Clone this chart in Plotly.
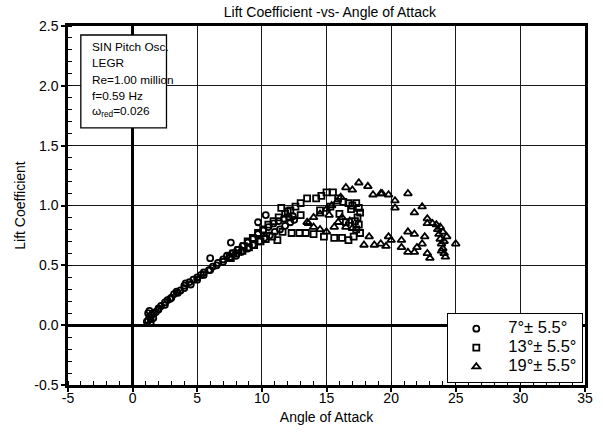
import plotly.graph_objects as go

# --- tick labels ---
x_tick_vals = [-5, 0, 5, 10, 15, 20, 25, 30, 35]
x_tick_text = ["-5", "0", "5", "10", "15", "20", "25", "30", "35"]
y_tick_vals = [-0.5, 0.0, 0.5, 1.0, 1.5, 2.0, 2.5]
y_tick_text = ["-0.5", "0.0", "0.5", "1.0", "1.5", "2.0", "2.5"]

# --- series names ---
series_names = ["7°± 5.5°", "13°± 5.5°", "19°± 5.5°"]

# --- test-condition text lines ---
info_lines = ["SIN Pitch Osc.", "LEGR", "Re=1.00 million", "f=0.59 Hz",
              "ω<sub>red</sub>=0.026"]

# --- 7° ± 5.5° (angle of attack, lift coefficient) ---
alpha_7 = [1.2, 1.3, 1.2, 1.4, 1.5, 1.3, 1.6, 1.8, 2.0, 2.2, 2.5, 2.7, 2.9, 3.2,
           3.4, 3.7, 4.0, 4.1, 4.4, 4.7, 5.0, 5.3, 5.5, 5.9, 6.2, 6.6, 7.0, 7.3,
           7.7, 8.1, 8.5, 8.9, 9.3, 9.7, 10.1, 10.5, 10.9, 11.3, 11.7, 12.1, 12.4,
           12.5, 12.2, 11.8, 11.4, 11.0, 10.6, 10.2, 9.8, 9.3, 8.9, 8.4, 8.0, 7.6,
           7.5, 7.0, 6.5, 6.0, 6.0, 5.5, 5.0, 4.5, 4.0, 3.5, 3.0, 2.5, 2.0, 1.6,
           1.1, 1.4, 9.7, 10.3]
cl_7 = [0.04, 0.07, 0.10, 0.05, 0.09, 0.12, 0.06, 0.11, 0.13, 0.16, 0.17, 0.21,
        0.22, 0.26, 0.28, 0.29, 0.33, 0.35, 0.36, 0.38, 0.40, 0.42, 0.44, 0.46,
        0.49, 0.52, 0.55, 0.58, 0.60, 0.63, 0.66, 0.69, 0.72, 0.76, 0.79, 0.82,
        0.85, 0.87, 0.89, 0.90, 0.91, 0.88, 0.86, 0.83, 0.80, 0.78, 0.75, 0.73,
        0.70, 0.67, 0.64, 0.61, 0.58, 0.69, 0.56, 0.53, 0.50, 0.46, 0.56, 0.42,
        0.38, 0.34, 0.31, 0.27, 0.23, 0.19, 0.14, 0.10, 0.03, 0.02, 0.86, 0.92]

# --- 13° ± 5.5° ---
alpha_13 = [7.5, 7.8, 8.2, 8.6, 8.9, 9.3, 9.7, 10.1, 10.5, 10.9, 11.3, 11.8, 12.2,
            12.6, 13.0, 13.5, 14.2, 14.6, 15.0, 15.5, 15.9, 16.3, 16.7, 17.0, 17.3,
            17.5, 17.6, 17.4, 17.2, 17.5, 17.3, 17.6, 17.1, 16.7, 16.5, 16.2, 15.6,
            14.8, 14.0, 13.4, 12.9, 12.3, 11.6, 11.2, 10.8, 10.3, 9.9, 9.4, 9.0,
            8.5, 8.0, 7.6, 12.0, 11.5, 13.0, 14.5, 15.3, 16.0, 16.9]
cl_13 = [0.57, 0.60, 0.63, 0.66, 0.70, 0.73, 0.77, 0.80, 0.84, 0.87, 0.90, 0.93,
         0.96, 0.99, 1.02, 1.06, 1.06, 1.08, 1.11, 1.11, 1.06, 1.03, 1.02, 1.00,
         1.02, 0.98, 0.94, 0.90, 0.87, 0.84, 0.80, 0.77, 0.74, 0.71, 0.86, 0.73,
         0.73, 0.74, 0.76, 0.77, 0.77, 0.77, 0.78, 0.71, 0.74, 0.72, 0.70, 0.67,
         0.65, 0.62, 0.60, 0.56, 0.95, 0.98, 0.92, 0.96, 0.99, 0.93, 0.97]

# --- 19° ± 5.5° ---
alpha_19 = [13.5, 14.0, 14.5, 15.0, 15.4, 15.8, 16.1, 16.5, 17.0, 17.5, 18.2, 18.6,
            19.3, 19.8, 20.3, 20.3, 21.3, 21.8, 22.4, 22.8, 22.8, 23.2, 23.5, 23.6,
            23.7, 23.8, 23.9, 24.0, 24.1, 24.2, 24.0, 23.8, 24.1, 23.9, 24.3, 25.0,
            23.0, 22.8, 22.4, 22.0, 21.8, 21.3, 21.3, 20.8, 20.8, 19.8, 20.0, 19.2,
            19.6, 18.7, 18.3, 17.9, 17.0, 16.5, 15.9, 15.6, 15.0, 14.5, 14.0, 13.6,
            16.2, 15.2, 16.8, 22.6, 19.2, 21.8]
cl_19 = [0.86, 0.90, 0.93, 0.97, 1.00, 1.03, 1.07, 1.15, 1.13, 1.19, 1.16, 1.09,
         1.10, 1.09, 1.04, 0.98, 1.10, 0.94, 0.99, 0.89, 0.85, 0.85, 0.84, 0.80,
         0.76, 0.72, 0.68, 0.64, 0.60, 0.57, 0.78, 0.82, 0.70, 0.62, 0.74, 0.68,
         0.56, 0.60, 0.68, 0.65, 0.61, 0.61, 0.78, 0.71, 0.65, 0.74, 0.71, 0.68,
         0.66, 0.67, 0.74, 0.67, 0.81, 0.82, 0.86, 0.82, 0.78, 0.80, 0.82, 0.85,
         0.90, 0.92, 0.87, 0.74, 1.10, 0.76]

FONT = "Arial, 'Liberation Sans', sans-serif"

fig = go.Figure()

series = [
    (alpha_7, cl_7, "circle-open", 6),
    (alpha_13, cl_13, "square-open", 6),
    (alpha_19, cl_19, "triangle-up-open", 7),
]
for (xs, ys, sym, size), name in zip(series, series_names):
    fig.add_trace(go.Scatter(
        x=xs, y=ys, mode="markers",
        name=f"<span style='font-size:16.5px'>{name}</span>",
        marker=dict(symbol=sym, size=size, color="black",
                    line=dict(color="black", width=1.8)),
    ))

axis_common = dict(
    showline=True, linewidth=2.5, linecolor="black", mirror=True,
    showgrid=True, gridcolor="#1a1a1a", gridwidth=1.3,
    zeroline=True, zerolinecolor="black", zerolinewidth=2.8,
    ticks="outside", ticklen=4, tickwidth=1.5, tickcolor="black",
    tickfont=dict(family=FONT, size=14, color="black"),
)

fig.update_xaxes(
    range=[-5, 35], tickvals=x_tick_vals, ticktext=x_tick_text,
    minor=dict(ticks="inside", dtick=1, tick0=0, ticklen=4, tickwidth=1.2,
               tickcolor="black", showgrid=False),
    ticklabelstandoff=-6,
    title=dict(text="Angle of Attack", font=dict(family=FONT, size=14, color="black"),
               standoff=8),
    **axis_common,
)
fig.update_yaxes(
    range=[-0.5, 2.5], tickvals=y_tick_vals, ticktext=y_tick_text,
    minor=dict(ticks="inside", dtick=0.1, tick0=0, ticklen=4, tickwidth=1.2,
               tickcolor="black", showgrid=False),
    title=dict(text="Lift Coefficient", font=dict(family=FONT, size=14, color="black"),
               standoff=6),
    **axis_common,
)

# boxed block of test conditions in the upper-left corner
fig.add_shape(
    type="rect", xref="paper", yref="paper",
    x0=0.0248, x1=0.1905, y0=0.716, y1=0.975,
    line=dict(color="black", width=1.3), fillcolor="white", layer="above",
)
info_y = [0.9415, 0.897, 0.850, 0.804, 0.761]
for line, yy in zip(info_lines, info_y):
    fig.add_annotation(
        xref="paper", yref="paper", x=0.0419, y=yy, xanchor="left", yanchor="middle",
        text=line, showarrow=False, align="left",
        font=dict(family=FONT, size=11.8, color="black"),
    )

fig.update_layout(
    width=603, height=440,
    margin=dict(l=68, r=10, t=26, b=55),
    paper_bgcolor="white", plot_bgcolor="white",
    font=dict(family=FONT, color="black"),
    title=dict(text="Lift Coefficient -vs- Angle of Attack",
               font=dict(family=FONT, size=14, color="black"),
               x=0.547, xanchor="center", y=0.972, yanchor="middle"),
    showlegend=True,
    legend=dict(
        x=0.7333, y=0.2006, xanchor="left", yanchor="top",
        bgcolor="white", bordercolor="black", borderwidth=1.2,
        font=dict(family=FONT, size=11, color="black"),
        itemwidth=54, indentation=-4, tracegroupgap=0,
    ),
)

fig.write_html("out.html")
